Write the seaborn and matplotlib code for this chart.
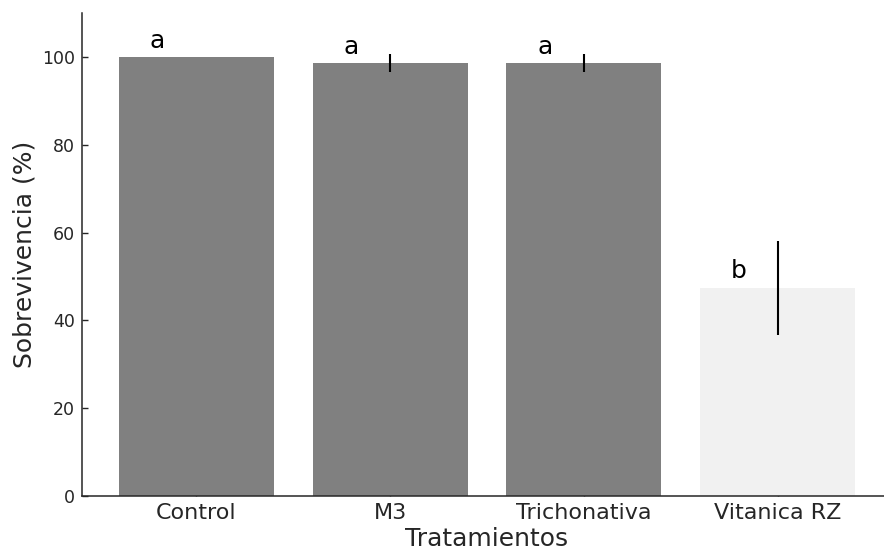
import matplotlib
matplotlib.use("Agg")
import matplotlib.pyplot as plt
import seaborn as sns
import pandas as pd
import numpy as np

# Data
tratamientos = ["Control", "M3", "Trichonativa", "Vitanica RZ"]
sobrevivencia = [100.0, 98.6, 98.6, 47.4]
error = [0.0, 2.0, 2.0, 10.7]
letras = ["a", "a", "a", "b"]
colores = ["#808080", "#808080", "#808080", "#f1f1f1"]

df = pd.DataFrame({"Tratamientos": tratamientos, "Sobrevivencia": sobrevivencia})

sns.set_style("ticks")
plt.rcParams["font.family"] = ["DejaVu Sans"]

W, H = 884, 552
fig = plt.figure(figsize=(W / 100, H / 100), dpi=100)
ax = fig.add_axes([82 / W, (H - 496) / H, (892 - 82) / W, (496 - 13) / H])

sns.barplot(data=df, x="Tratamientos", y="Sobrevivencia", hue="Tratamientos",
            palette=dict(zip(tratamientos, colores)), order=tratamientos,
            errorbar=None, width=0.8, legend=False, ax=ax, linewidth=0, saturation=1)

xs = np.arange(len(tratamientos))
ax.errorbar(xs, sobrevivencia, yerr=error, fmt="none", ecolor="black",
            elinewidth=1.5, capsize=0)

for x, m, l in zip(xs, sobrevivencia, letras):
    ax.text(x - 0.2, m + 1, l, ha="center", va="bottom", fontsize=18, color="black")

ax.set_xlim(-0.59, 3.59)
ax.set_ylim(0, 110)
ax.set_yticks([0, 20, 40, 60, 80, 100])
ax.set_xlabel("Tratamientos", fontsize=18, labelpad=3, color="#262626")
ax.set_ylabel("Sobrevivencia (%)", fontsize=18, labelpad=4, color="#262626")
ax.tick_params(axis="x", direction="in", length=4, width=1, labelsize=16,
               colors="#262626", pad=5)
ax.tick_params(axis="y", direction="in", length=4, width=1, labelsize=12.5,
               colors="#262626", pad=5)
for s in ["top", "right"]:
    ax.spines[s].set_visible(False)
for s in ["left", "bottom"]:
    ax.spines[s].set_color("#262626")
    ax.spines[s].set_linewidth(1.1)

fig.savefig("out.png", dpi=100)
